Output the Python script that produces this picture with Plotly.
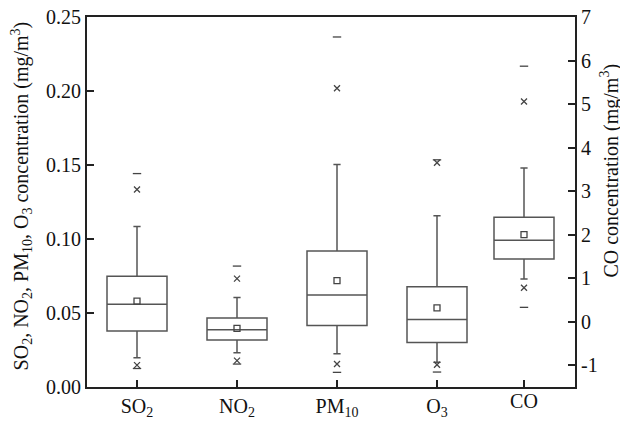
import plotly.graph_objects as go

# ---- data (left axis, mg/m3) ----
categories = ["SO2", "NO2", "PM10", "O3"]
tick_text = ["SO<sub>2</sub>", "NO<sub>2</sub>", "PM<sub>10</sub>", "O<sub>3</sub>"]
q1 = [0.0379, 0.0317, 0.0416, 0.0301]
median = [0.0559, 0.0386, 0.0622, 0.0456]
q3 = [0.0748, 0.0467, 0.0919, 0.0678]
lower = [0.0197, 0.0231, 0.0224, 0.0168]
upper = [0.1085, 0.0604, 0.1503, 0.1157]
mean = [0.0580, 0.0396, 0.0719, 0.0534]
p1 = [0.0148, 0.0178, 0.0155, 0.0150]
p99 = [0.1334, 0.0732, 0.2019, 0.1515]
vmin = [0.0125, 0.0155, 0.0099, 0.0101]
vmax = [0.1442, 0.0817, 0.2365, 0.1535]

# ---- CO (right axis, mg/m3) ----
co_cat = ["CO"]
co_q1 = [1.44]
co_median = [1.87]
co_q3 = [2.40]
co_lower = [0.98]
co_upper = [3.53]
co_mean = [2.00]
co_p1 = [0.78]
co_p99 = [5.06]
co_min = [0.33]
co_max = [5.87]

right_ticks = [-1, 0, 1, 2, 3, 4, 5, 6, 7]
right_tick_text = ["-1", "0", "1", "2", "3", "4", "5", "6", "7"]

FONT = "Liberation Serif"
BOXC = "#555555"
MKC = "#444444"

fig = go.Figure()


def add_group(x, q1_, med_, q3_, lo_, up_, mn_, p1_, p99_, mi_, ma_, xa, ya):
    fig.add_trace(go.Box(
        x=x, q1=q1_, median=med_, q3=q3_, lowerfence=lo_, upperfence=up_,
        width=0.6, whiskerwidth=0.12, fillcolor="rgba(0,0,0,0)",
        line=dict(color=BOXC, width=1.5), boxpoints=False,
        xaxis=xa, yaxis=ya, showlegend=False))
    fig.add_trace(go.Scatter(
        x=x, y=mn_, mode="markers", xaxis=xa, yaxis=ya, showlegend=False,
        marker=dict(symbol="square-open", size=6, color=MKC, line=dict(width=1.3, color=MKC))))
    for vals, sym in ((p1_, "x-thin-open"), (p99_, "x-thin-open"),
                      (mi_, "line-ew-open"), (ma_, "line-ew-open")):
        fig.add_trace(go.Scatter(
            x=x, y=vals, mode="markers", xaxis=xa, yaxis=ya, showlegend=False,
            marker=dict(symbol=sym, size=6, color=MKC, line=dict(width=1.3, color=MKC))))


add_group(categories, q1, median, q3, lower, upper, mean, p1, p99, vmin, vmax, "x", "y")
add_group(co_cat, co_q1, co_median, co_q3, co_lower, co_upper, co_mean, co_p1, co_p99, co_min, co_max, "x2", "y2")

axis_common = dict(showgrid=False, zeroline=False, ticks="inside", ticklen=7,
                   tickwidth=2, tickcolor="#222", automargin=False,
                   ticklabeloverflow="allow",
                   tickfont=dict(family=FONT, size=20, color="#111"))

# the page body adds an 8px offset, so the figure is 8px smaller and margins shifted
fig.update_layout(
    width=620, height=419,
    margin=dict(l=79, r=53, t=9, b=40),
    paper_bgcolor="white", plot_bgcolor="white",
    font=dict(family=FONT, size=20, color="#111"),
    xaxis=dict(type="category", categoryorder="array", categoryarray=categories,
               tickvals=categories, ticktext=tick_text, range=[-0.5, 4.38],
               showline=True, mirror=True, linecolor="#222", linewidth=2, **axis_common),
    xaxis2=dict(type="category", overlaying="x", anchor="y", side="bottom",
                range=[-4.37, 0.51], tickvals=co_cat, ticktext=["CO"],
                showline=False, **axis_common),
    yaxis=dict(range=[0, 0.25], dtick=0.05, tickformat=".2f", showline=True,
               linecolor="#222", linewidth=2, **axis_common),
    yaxis2=dict(range=[-1.5, 7], tickvals=right_ticks, ticktext=right_tick_text,
                overlaying="y", side="right", anchor="x",
                showline=True, linecolor="#222", linewidth=2, **axis_common),
    annotations=[
        dict(text="SO<sub>2</sub>, NO<sub>2</sub>, PM<sub>10</sub>, O<sub>3</sub> concentration (mg/m<sup>3</sup>)",
             xref="paper", yref="paper", x=(22 - 87) / 488, y=0.515, textangle=-90,
             showarrow=False, xanchor="center", yanchor="middle",
             font=dict(family=FONT, size=20, color="#111")),
        dict(text="CO concentration (mg/m<sup>3</sup>)",
             xref="paper", yref="paper", x=(610 - 87) / 488, y=0.585, textangle=-90,
             showarrow=False, xanchor="center", yanchor="middle",
             font=dict(family=FONT, size=20, color="#111")),
    ],
)

fig.write_html("out.html")
